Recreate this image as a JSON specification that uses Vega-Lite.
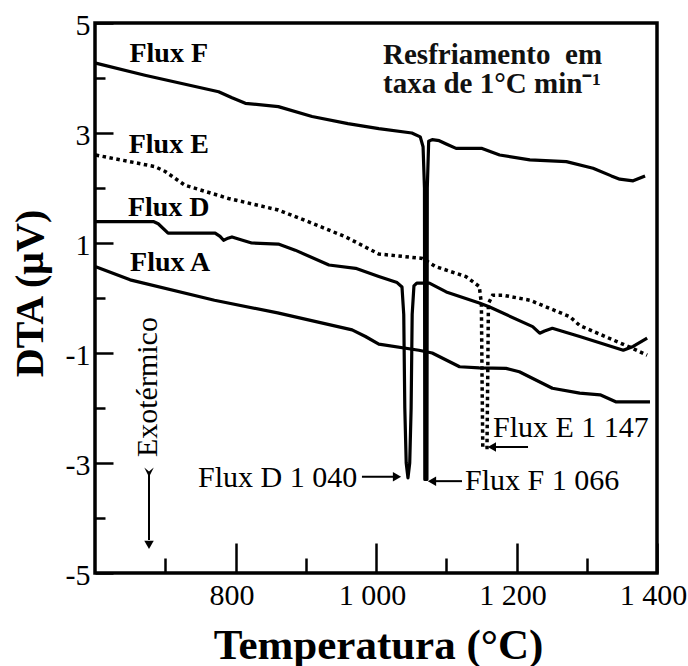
{
  "$schema": "https://vega.github.io/schema/vega-lite/v6.json",
  "width": 562,
  "height": 550,
  "autosize": {"type": "none"},
  "padding": {"left": 95, "top": 23, "right": 31, "bottom": 93},
  "background": "white",
  "config": {
    "view": {"stroke": "black", "strokeWidth": 3.5},
    "axis": {"domain": false, "grid": false, "tickColor": "black", "tickWidth": 2.5, "labelFont": "Liberation Serif", "labelColor": "black", "titleFont": "Liberation Serif", "titleColor": "black", "labelFlush": false, "labelOverlap": false, "labelBound": false}
  },
  "datasets": {
    "solid": [
      {"flux": "F", "T": 601, "V": 4.27}, {"flux": "F", "T": 671, "V": 4.05}, {"flux": "F", "T": 776, "V": 3.75}, {"flux": "F", "T": 795, "V": 3.64}, {"flux": "F", "T": 814, "V": 3.54}, {"flux": "F", "T": 861, "V": 3.48}, {"flux": "F", "T": 909, "V": 3.3}, {"flux": "F", "T": 960, "V": 3.17}, {"flux": "F", "T": 1004, "V": 3.08}, {"flux": "F", "T": 1051, "V": 3.0}, {"flux": "F", "T": 1063, "V": 2.93}, {"flux": "F", "T": 1067, "V": 2.75}, {"flux": "F", "T": 1069, "V": 2.0}, {"flux": "F", "T": 1069.5, "V": -3.3}, {"flux": "F", "T": 1072.5, "V": -3.3}, {"flux": "F", "T": 1073, "V": 2.0}, {"flux": "F", "T": 1075, "V": 2.85}, {"flux": "F", "T": 1080, "V": 2.88}, {"flux": "F", "T": 1090, "V": 2.86}, {"flux": "F", "T": 1100, "V": 2.8}, {"flux": "F", "T": 1114, "V": 2.72}, {"flux": "F", "T": 1151, "V": 2.72}, {"flux": "F", "T": 1176, "V": 2.6}, {"flux": "F", "T": 1219, "V": 2.51}, {"flux": "F", "T": 1271, "V": 2.48}, {"flux": "F", "T": 1309, "V": 2.36}, {"flux": "F", "T": 1335, "V": 2.22}, {"flux": "F", "T": 1347, "V": 2.16}, {"flux": "F", "T": 1366, "V": 2.13}, {"flux": "F", "T": 1383, "V": 2.22},
      {"flux": "D", "T": 601, "V": 1.39}, {"flux": "D", "T": 683, "V": 1.39}, {"flux": "D", "T": 690, "V": 1.35}, {"flux": "D", "T": 704, "V": 1.18}, {"flux": "D", "T": 771, "V": 1.18}, {"flux": "D", "T": 778, "V": 1.12}, {"flux": "D", "T": 783, "V": 1.05}, {"flux": "D", "T": 788, "V": 1.08}, {"flux": "D", "T": 795, "V": 1.11}, {"flux": "D", "T": 810, "V": 1.05}, {"flux": "D", "T": 823, "V": 1.0}, {"flux": "D", "T": 861, "V": 0.98}, {"flux": "D", "T": 885, "V": 0.87}, {"flux": "D", "T": 933, "V": 0.6}, {"flux": "D", "T": 971, "V": 0.54}, {"flux": "D", "T": 1004, "V": 0.39}, {"flux": "D", "T": 1030, "V": 0.28}, {"flux": "D", "T": 1037, "V": 0.2}, {"flux": "D", "T": 1039.5, "V": -0.3}, {"flux": "D", "T": 1041, "V": -2.0}, {"flux": "D", "T": 1043, "V": -3.0}, {"flux": "D", "T": 1045.5, "V": -3.27}, {"flux": "D", "T": 1048, "V": -3.0}, {"flux": "D", "T": 1050, "V": -2.0}, {"flux": "D", "T": 1051.5, "V": -0.3}, {"flux": "D", "T": 1054, "V": 0.22}, {"flux": "D", "T": 1058, "V": 0.27}, {"flux": "D", "T": 1076, "V": 0.27}, {"flux": "D", "T": 1100, "V": 0.11}, {"flux": "D", "T": 1147, "V": -0.09}, {"flux": "D", "T": 1161, "V": -0.16}, {"flux": "D", "T": 1223, "V": -0.52}, {"flux": "D", "T": 1233, "V": -0.64}, {"flux": "D", "T": 1240, "V": -0.6}, {"flux": "D", "T": 1251, "V": -0.55}, {"flux": "D", "T": 1290, "V": -0.7}, {"flux": "D", "T": 1352, "V": -0.95}, {"flux": "D", "T": 1366, "V": -0.88}, {"flux": "D", "T": 1386, "V": -0.73},
      {"flux": "A", "T": 601, "V": 0.57}, {"flux": "A", "T": 650, "V": 0.33}, {"flux": "A", "T": 770, "V": -0.04}, {"flux": "A", "T": 860, "V": -0.27}, {"flux": "A", "T": 966, "V": -0.58}, {"flux": "A", "T": 985, "V": -0.7}, {"flux": "A", "T": 1004, "V": -0.84}, {"flux": "A", "T": 1061, "V": -0.95}, {"flux": "A", "T": 1080, "V": -1.0}, {"flux": "A", "T": 1119, "V": -1.25}, {"flux": "A", "T": 1147, "V": -1.27}, {"flux": "A", "T": 1185, "V": -1.28}, {"flux": "A", "T": 1204, "V": -1.34}, {"flux": "A", "T": 1251, "V": -1.64}, {"flux": "A", "T": 1290, "V": -1.73}, {"flux": "A", "T": 1319, "V": -1.76}, {"flux": "A", "T": 1342, "V": -1.89}, {"flux": "A", "T": 1390, "V": -1.89}
    ],
    "dotted": [
      {"flux": "E", "T": 601, "V": 2.6}, {"flux": "E", "T": 685, "V": 2.39}, {"flux": "E", "T": 700, "V": 2.3}, {"flux": "E", "T": 728, "V": 2.05}, {"flux": "E", "T": 790, "V": 1.81}, {"flux": "E", "T": 861, "V": 1.6}, {"flux": "E", "T": 909, "V": 1.36}, {"flux": "E", "T": 957, "V": 1.11}, {"flux": "E", "T": 1004, "V": 0.8}, {"flux": "E", "T": 1066, "V": 0.72}, {"flux": "E", "T": 1085, "V": 0.57}, {"flux": "E", "T": 1128, "V": 0.39}, {"flux": "E", "T": 1147, "V": 0.21}, {"flux": "E", "T": 1150, "V": -0.1}, {"flux": "E", "T": 1151, "V": -1.5}, {"flux": "E", "T": 1152, "V": -2.72}, {"flux": "E", "T": 1158, "V": -2.72}, {"flux": "E", "T": 1159, "V": -1.5}, {"flux": "E", "T": 1160, "V": -0.1}, {"flux": "E", "T": 1166, "V": 0.05}, {"flux": "E", "T": 1181, "V": 0.05}, {"flux": "E", "T": 1219, "V": -0.04}, {"flux": "E", "T": 1276, "V": -0.34}, {"flux": "E", "T": 1290, "V": -0.5}, {"flux": "E", "T": 1337, "V": -0.76}, {"flux": "E", "T": 1366, "V": -0.92}, {"flux": "E", "T": 1386, "V": -1.04}
    ],
    "boldLabels": [
      {"txt": "Flux F", "T": 705, "V": 4.44},
      {"txt": "Flux E", "T": 705, "V": 2.78},
      {"txt": "Flux D", "T": 705, "V": 1.64},
      {"txt": "Flux A", "T": 707, "V": 0.64}
    ],
    "boldNotes": [
      {"txt": "Resfriamento\u00a0 em", "T": 1010, "V": 4.42},
      {"txt": "taxa de 1°C min⁻¹", "T": 1010, "V": 3.89}
    ],
    "regNotes": [
      {"txt": "Flux D 1 040", "T": 746.6, "V": -3.27},
      {"txt": "Flux F 1 066", "T": 1126.7, "V": -3.33},
      {"txt": "Flux E 1 147", "T": 1166.5, "V": -2.36}
    ],
    "exo": [
      {"txt": "Exotérmico", "T": 675.4, "V": -1.62}
    ],
    "arrows": [
      {"T": 980, "T2": 1026, "V": -3.25, "V2": -3.25},
      {"T": 1083, "T2": 1122.4, "V": -3.33, "V2": -3.33},
      {"T": 1168, "T2": 1216.4, "V": -2.71, "V2": -2.71},
      {"T": 676.9, "T2": 676.9, "V": -3.2, "V2": -4.4}
    ],
    "heads": [
      {"dir": "right", "T": 1029.9, "V": -3.25},
      {"dir": "left", "T": 1079.7, "V": -3.33},
      {"dir": "left", "T": 1165, "V": -2.71},
      {"dir": "down", "T": 676.9, "V": -4.49},
      {"dir": "tail", "T": 676.9, "V": -3.17}
    ]
  },
  "layer": [
    {
      "data": {"name": "solid"},
      "mark": {"type": "line", "stroke": "black", "strokeWidth": 3.2, "strokeJoin": "round"},
      "encoding": {
        "x": {"field": "T", "type": "quantitative", "scale": {"domain": [600, 1400], "nice": false, "zero": false},
          "axis": {"orient": "bottom", "values": [800, 1000, 1200, 1400], "tickSize": -30, "labelFontSize": 30, "labelPadding": 37, "labelOffset": -4,
            "labelExpr": "datum.value < 1000 ? '' + datum.value : '1 ' + substring('' + datum.value, 1)",
            "title": "Temperatura (°C)", "titleFontSize": 43, "titleFontWeight": "bold", "titleX": 283, "titleY": 85, "titleBaseline": "alphabetic", "titleAlign": "center", "titleAnchor": null}},
        "y": {"field": "V", "type": "quantitative", "scale": {"domain": [-5, 5], "nice": false, "zero": false},
          "axis": {"orient": "left", "values": [5, 3, 1, -1, -3, -5], "tickSize": -18, "labelFontSize": 30, "labelPadding": 23, "labelOffset": 2, "labelBaseline": "middle",
            "labelExpr": "'' + datum.value",
            "title": "DTA (μV)", "titleFontSize": 40, "titleFontWeight": "bold", "titleX": -65, "titleY": 270, "titleAngle": -90, "titleAlign": "center", "titleBaseline": "middle", "titleAnchor": null}},
        "detail": {"field": "flux"}
      }
    },
    {
      "data": {"name": "dotted"},
      "mark": {"type": "line", "stroke": "black", "strokeWidth": 3.5, "strokeDash": [3.5, 3.5]},
      "encoding": {
        "x": {"field": "T", "type": "quantitative", "axis": {"orient": "bottom", "values": [700, 900, 1100, 1300], "tickSize": -15, "labels": false, "title": null}},
        "y": {"field": "V", "type": "quantitative", "axis": {"orient": "left", "values": [4, 2, 0, -2, -4], "tickSize": -10, "labels": false, "title": null}}
      }
    },
    {
      "data": {"name": "boldLabels"},
      "mark": {"type": "text", "font": "Liberation Serif", "fontWeight": "bold", "fontSize": 28, "align": "center", "baseline": "middle", "color": "black"},
      "encoding": {
        "x": {"field": "T", "type": "quantitative", "axis": null},
        "y": {"field": "V", "type": "quantitative", "axis": null},
        "text": {"field": "txt"}
      }
    },
    {
      "data": {"name": "boldNotes"},
      "mark": {"type": "text", "font": "Liberation Serif", "fontWeight": "bold", "fontSize": 29, "align": "left", "baseline": "middle", "color": "#111"},
      "encoding": {
        "x": {"field": "T", "type": "quantitative", "axis": null},
        "y": {"field": "V", "type": "quantitative", "axis": null},
        "text": {"field": "txt"}
      }
    },
    {
      "data": {"name": "regNotes"},
      "mark": {"type": "text", "font": "Liberation Serif", "fontSize": 30, "align": "left", "baseline": "middle", "color": "black"},
      "encoding": {
        "x": {"field": "T", "type": "quantitative", "axis": null},
        "y": {"field": "V", "type": "quantitative", "axis": null},
        "text": {"field": "txt"}
      }
    },
    {
      "data": {"name": "exo"},
      "mark": {"type": "text", "font": "Liberation Serif", "fontSize": 30, "align": "center", "baseline": "middle", "angle": 270, "color": "black"},
      "encoding": {
        "x": {"field": "T", "type": "quantitative", "axis": null},
        "y": {"field": "V", "type": "quantitative", "axis": null},
        "text": {"field": "txt"}
      }
    },
    {
      "data": {"name": "arrows"},
      "mark": {"type": "rule", "stroke": "black", "strokeWidth": 2},
      "encoding": {
        "x": {"field": "T", "type": "quantitative", "axis": null},
        "x2": {"field": "T2"},
        "y": {"field": "V", "type": "quantitative", "axis": null},
        "y2": {"field": "V2"}
      }
    },
    {
      "data": {"name": "heads"},
      "mark": {"type": "point", "filled": true, "color": "black", "size": 90, "opacity": 1},
      "encoding": {
        "x": {"field": "T", "type": "quantitative", "axis": null},
        "y": {"field": "V", "type": "quantitative", "axis": null},
        "shape": {"field": "dir", "type": "nominal", "legend": null,
          "scale": {"domain": ["left", "right", "down", "tail"], "range": ["triangle-left", "triangle-right", "triangle-down", "M-1,-1L0,-0.2L1,-1L0,1Z"]}}
      }
    }
  ],
  "resolve": {"axis": {"x": "independent", "y": "independent"}}
}
